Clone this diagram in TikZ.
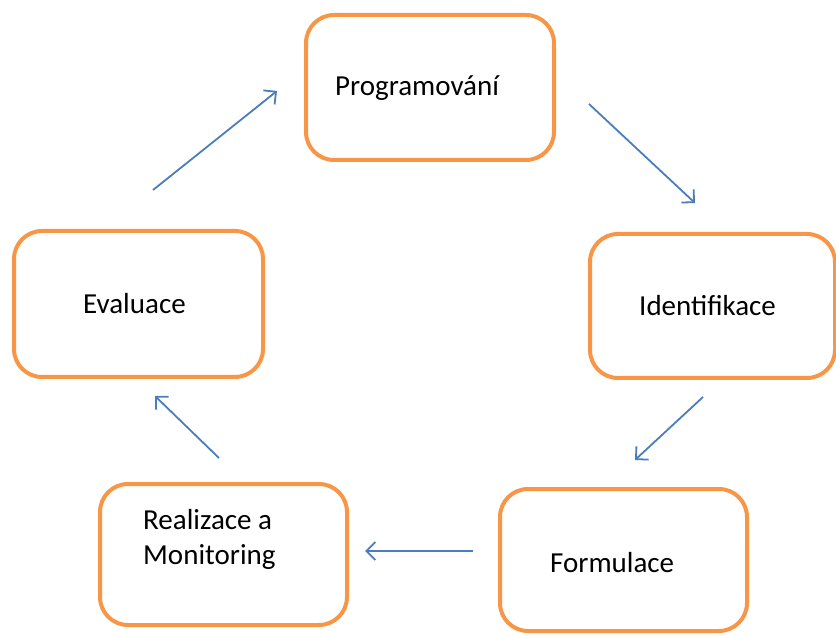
\documentclass[tikz,border=0pt]{standalone}
\usepackage{fontspec}
\setmainfont{Carlito}
\usetikzlibrary{arrows.meta}
\definecolor{boxorange}{HTML}{F79646}
\definecolor{arrowblue}{HTML}{4A7EBB}
\begin{document}
\begin{tikzpicture}[x=1pt,y=-1pt,
  stagebox/.style={draw=boxorange,line width=4pt,rounded corners=28pt,fill=white},
  stagetext/.style={anchor=west,font=\fontsize{29}{35}\selectfont,inner sep=0pt,align=left},
  flow/.style={draw=arrowblue,line width=1.8pt,-{Straight Barb[length=9pt,width=18pt,line width=1.8pt]}}]
\useasboundingbox (0,0) rectangle (836,636);
\clip (0,0) rectangle (836,636);
% boxes
\draw[stagebox] (306,15) rectangle (554,160);
\node[stagetext] (tprog) at (335,88) {Programování};
\draw[stagebox] (14,231) rectangle (263,377);
\node[stagetext] (teval) at (83,304) {Evaluace};
\draw[stagebox] (590,234) rectangle (835,378);
\node[stagetext] (tiden) at (639,306) {Identifikace};
\draw[stagebox] (100,484) rectangle (347,625);
\node[stagetext] (treal) at (143,539) {Realizace a\\Monitoring};
\draw[stagebox] (500,489) rectangle (747,631);
\node[stagetext] (tform) at (550,563) {Formulace};
% arrow end points
\coordinate (a1s) at (153,190); \coordinate (a1e) at (277,91);
\coordinate (a2s) at (589,104); \coordinate (a2e) at (695,203);
\coordinate (a3s) at (703,397); \coordinate (a3e) at (635,460);
\coordinate (a4s) at (473,551); \coordinate (a4e) at (365,551);
\coordinate (a5s) at (219,458); \coordinate (a5e) at (155,396);
\draw[flow] (a1s) -- (a1e);
\draw[flow] (a2s) -- (a2e);
\draw[flow] (a3s) -- (a3e);
\draw[flow] (a4s) -- (a4e);
\draw[flow] (a5s) -- (a5e);
\end{tikzpicture}
\end{document}
